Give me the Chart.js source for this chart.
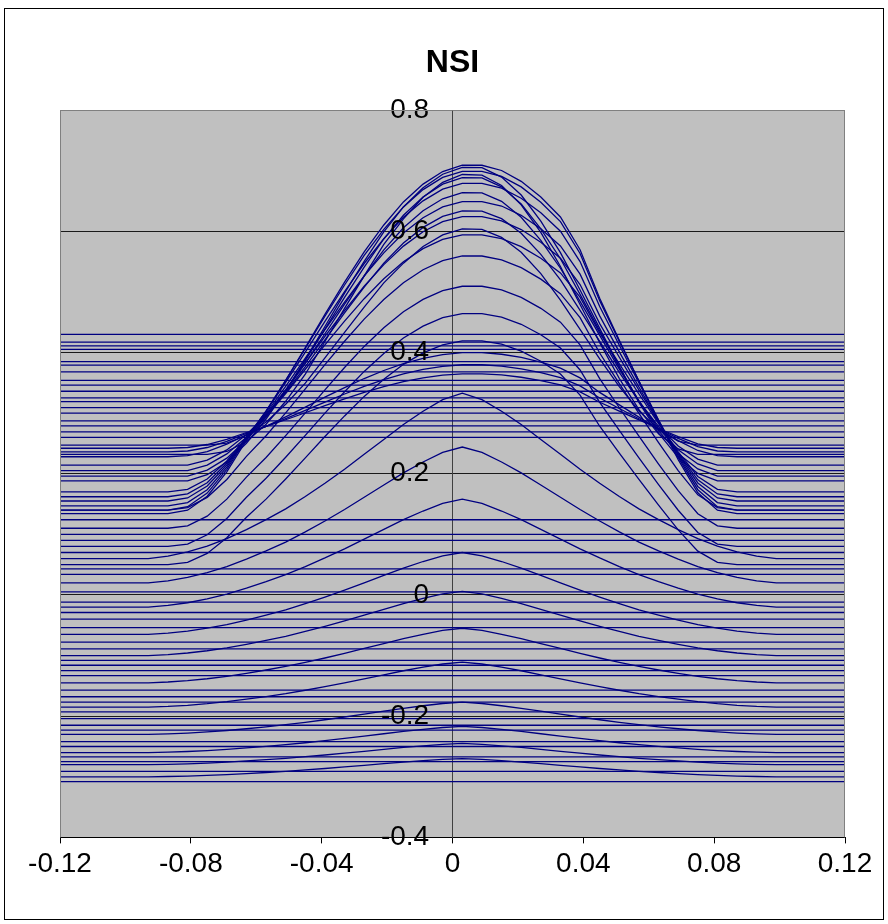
<!DOCTYPE html>
<html>
<head>
<meta charset="utf-8">
<script src="https://cdn.jsdelivr.net/npm/chart.js@4/dist/chart.umd.min.js"></script>
<style>
  body { margin: 0; background: #fff; }
  canvas { display: block; }
</style>
</head>
<body>
<canvas id="nsi" width="888" height="924"></canvas>
<script>
// sample positions along the x axis
const xs = [-0.12, -0.117, -0.111, -0.105, -0.099, -0.093, -0.087, -0.081, -0.075, -0.069, -0.063, -0.057, -0.051, -0.045, -0.039, -0.033, -0.027, -0.021, -0.015, -0.009, -0.003, 0.003, 0.009, 0.015, 0.021, 0.027, 0.033, 0.039, 0.045, 0.051, 0.057, 0.063, 0.069, 0.075, 0.081, 0.087, 0.093, 0.099, 0.105, 0.111, 0.117, 0.12];
const xEnds = [-0.12, 0.12];

// bump shapes (0 = baseline, 1 = top)
const wideProfile = [0, 0, 0, 0, 0, 0, 0, 0.01, 0.05, 0.12, 0.211, 0.292, 0.382, 0.476, 0.571, 0.663, 0.75, 0.827, 0.893, 0.944, 0.98, 0.998, 0.998, 0.983, 0.952, 0.907, 0.85, 0.756, 0.617, 0.497, 0.38, 0.265, 0.155, 0.06, 0.01, 0, 0, 0, 0, 0, 0, 0];
const midProfile = [0, 0, 0, 0, 0, 0, 0, 0, 0.02, 0.06, 0.12, 0.197, 0.286, 0.386, 0.491, 0.597, 0.698, 0.792, 0.871, 0.932, 0.975, 0.997, 0.996, 0.966, 0.909, 0.826, 0.726, 0.607, 0.485, 0.364, 0.25, 0.152, 0.075, 0.024, 0, 0, 0, 0, 0, 0, 0, 0];
const narrowProfile = [0, 0, 0, 0, 0, 0, 0, 0, 0, 0.01, 0.045, 0.107, 0.189, 0.286, 0.402, 0.52, 0.636, 0.748, 0.839, 0.916, 0.969, 0.997, 0.995, 0.958, 0.889, 0.791, 0.669, 0.534, 0.398, 0.27, 0.159, 0.073, 0.019, 0, 0, 0, 0, 0, 0, 0, 0, 0];
const peakedProfile = [0, 0, 0, 0, 0, 0, 0.015, 0.04, 0.075, 0.12, 0.175, 0.235, 0.3, 0.375, 0.455, 0.54, 0.63, 0.72, 0.81, 0.89, 0.96, 1, 0.96, 0.89, 0.81, 0.72, 0.63, 0.54, 0.455, 0.375, 0.3, 0.235, 0.175, 0.12, 0.075, 0.04, 0.015, 0, 0, 0, 0, 0];

// tall curves that cross near (+-0.065, 0.26)
const widePeak = [0.71, 0.70, 0.68, 0.65, 0.625, 0.595, 0.40, 0.38, 0.365];
const wideBase = [0.134, 0.14, 0.147, 0.155, 0.162, 0.17, 0.228, 0.236, 0.242];
const midPeak = [0.707, 0.69, 0.665, 0.635];
const midBase = [0.188, 0.196, 0.205, 0.214];
const narrowPeak = [0.695, 0.605];
const narrowBase = [0.232, 0.247];

// rounded curves that pass below the crossing
const moundPeak = [0.56, 0.51, 0.465, 0.42];
const moundBase = [0.14, 0.11, 0.08, 0.05];

// lower, pointed curves
const spikePeak = [0.333, 0.244, 0.158, 0.07, 0.006, -0.055, -0.111, -0.177, -0.217, -0.245, -0.27];
const spikeBase = [0.06, 0.02, -0.02, -0.065, -0.1, -0.145, -0.185, -0.23, -0.26, -0.28, -0.3];

// flat lines
const flatLevels = [0.430, 0.417, 0.411, 0.405, 0.385, 0.379, 0.368, 0.354, 0.346, 0.336, 0.325, 0.319, 0.309, 0.300, 0.287, 0.279, 0.269, 0.260, 0.124, 0.100, 0.090, 0.070, 0.043, 0.034, 0.005, -0.012, -0.029, -0.040, -0.054, -0.078, -0.089, -0.108, -0.116, -0.125, -0.133, -0.157, -0.168, -0.177, -0.193, -0.204, -0.215, -0.223, -0.242, -0.250, -0.267, -0.275, -0.291, -0.308];

const xTickValues = [-0.12, -0.08, -0.04, 0, 0.04, 0.08, 0.12];
const yTickValues = [-0.4, -0.2, 0, 0.2, 0.4, 0.6, 0.8];

const lineColor = '#000080';

function makeLine(points) {
    return {
        data: points,
        showLine: true,
        borderColor: lineColor,
        borderWidth: 1.3,
        pointRadius: 0,
        fill: false,
        tension: 0
    };
}

function bump(base, peak, profile) {
    return xs.map((x, j) => ({ x: x, y: base + (peak - base) * profile[j] }));
}

function addBumps(peaks, bases, profile) {
    peaks.forEach((p, i) => {
        datasets.push(makeLine(bump(bases[i], p, profile)));
    });
}

const datasets = [];
flatLevels.forEach(v => {
    datasets.push(makeLine(xEnds.map(x => ({ x: x, y: v }))));
});
addBumps(widePeak, wideBase, wideProfile);
addBumps(midPeak, midBase, midProfile);
addBumps(narrowPeak, narrowBase, narrowProfile);
addBumps(moundPeak, moundBase, wideProfile);
addBumps(spikePeak, spikeBase, peakedProfile);

const fmt = v => String(Number(v.toFixed(2)));
const labelFont = { family: 'Liberation Sans, Arial, sans-serif', size: 28 };

const frame = {
    id: 'frame',
    beforeDraw(chart) {
        const c = chart.ctx;
        const a = chart.chartArea;
        c.save();
        c.fillStyle = '#ffffff';
        c.fillRect(0, 0, chart.width, chart.height);
        c.fillStyle = '#c0c0c0';
        c.fillRect(a.left, a.top, a.right - a.left, a.bottom - a.top);
        c.restore();
    },
    afterDraw(chart) {
        const c = chart.ctx;
        const a = chart.chartArea;
        c.save();
        c.strokeStyle = '#808080';
        c.lineWidth = 1;
        c.beginPath();
        c.moveTo(a.left + 0.5, a.bottom);
        c.lineTo(a.left + 0.5, a.top + 0.5);
        c.lineTo(a.right - 0.5, a.top + 0.5);
        c.lineTo(a.right - 0.5, a.bottom);
        c.stroke();
        c.strokeStyle = '#000000';
        c.strokeRect(4.5, 8.5, 879, 911);
        c.restore();
    }
};

const ctx = document.getElementById('nsi').getContext('2d');
const chart = new Chart(ctx, {
    type: 'scatter',
    data: { datasets: datasets },
    options: {
        responsive: false,
        animation: false,
        events: [],
        layout: { padding: { left: 60, right: 43, top: 10, bottom: 39 } },
        plugins: {
            legend: { display: false },
            tooltip: { enabled: false },
            title: {
                display: true,
                text: 'NSI',
                color: '#000',
                font: { family: 'Liberation Sans, Arial, sans-serif', size: 32, weight: 'bold' },
                padding: { top: 34, bottom: 27.6 }
            }
        },
        scales: {
            x: {
                type: 'linear',
                position: 'bottom',
                min: -0.12,
                max: 0.12,
                afterBuildTicks: s => { s.ticks = xTickValues.map(v => ({ value: v })); },
                ticks: { color: '#000', font: labelFont, padding: 4, maxRotation: 0, autoSkip: false, callback: v => fmt(v) },
                grid: { drawOnChartArea: false, drawTicks: true, tickLength: 6, color: '#000' },
                border: { color: '#000', width: 1 }
            },
            y: {
                type: 'linear',
                position: { x: 0 },
                min: -0.4,
                max: 0.8,
                afterBuildTicks: s => { s.ticks = yTickValues.map(v => ({ value: v })); },
                ticks: { color: '#000', font: labelFont, z: 1, autoSkip: false, callback: v => fmt(v) + '   ' },
                grid: {
                    color: c => (c.tick && c.tick.value === 0.8) ? '#808080' : '#1a1a1a',
                    lineWidth: 1,
                    tickLength: 8
                },
                border: { color: '#404040', width: 1 }
            }
        }
    },
    plugins: [frame]
});
</script>
</body>
</html>
